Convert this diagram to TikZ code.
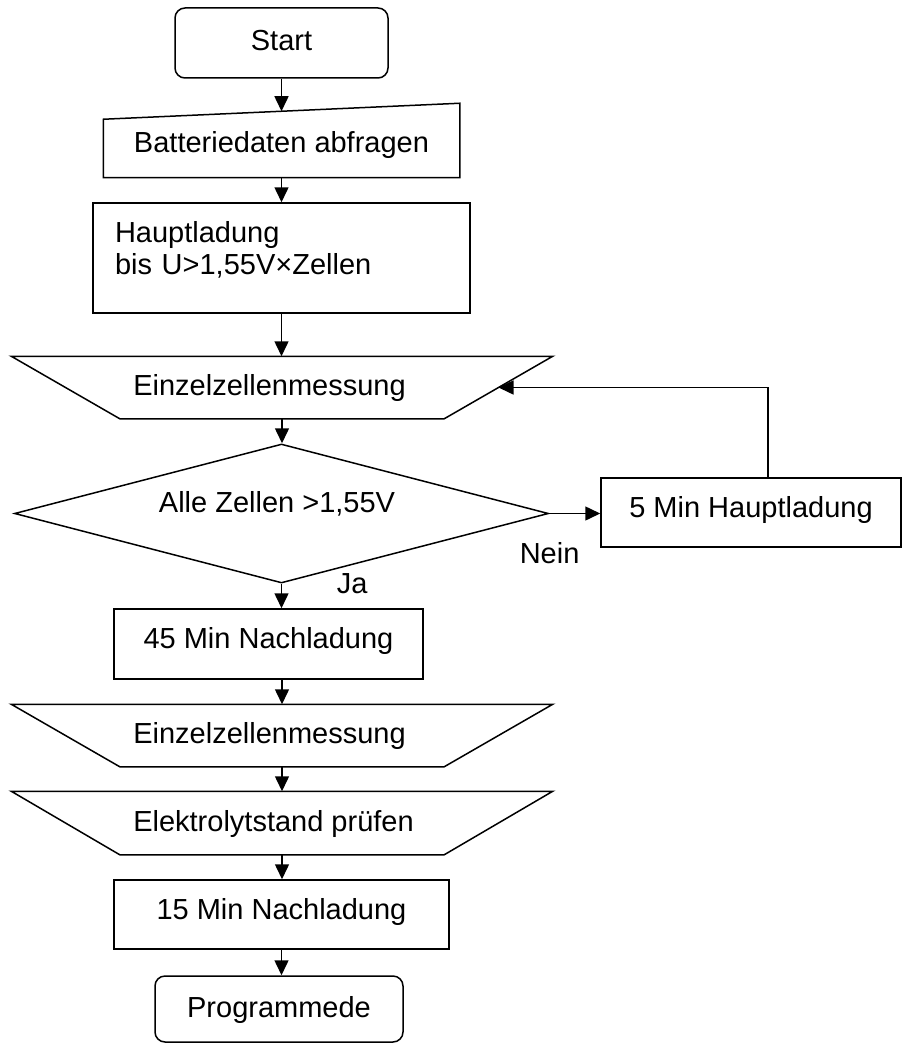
\documentclass[tikz,border=0pt]{standalone}
\usepackage{fontspec}
\setmainfont{Liberation Sans}
\usetikzlibrary{arrows.meta,shapes.geometric,calc}
\begin{document}
\begin{tikzpicture}[x=1pt,y=-1pt,line width=1.5pt,
  font=\fontsize{29}{32}\selectfont,
  base/.style={inner sep=0pt,text height=21pt,text depth=6pt},
  box/.style={base,draw,rectangle},
  term/.style={box,rounded corners=10pt},
  plain/.style={base,rectangle},
  arr/.style={-{Triangle[length=15pt,width=14pt]}}]
\useasboundingbox (0,0) rectangle (902,1043);
% nodes
\node[term,minimum width=213pt,minimum height=70pt] (start) at (281.5,43) {Start};
\node[plain,minimum width=355pt,minimum height=73pt,text height=31pt] (bd) at (281.5,140.5) {Batteriedaten abfragen};
\draw ([yshift=-16pt]bd.north west) -- (bd.north east) -- (bd.south east) -- (bd.south west) -- cycle;
\node[draw,rectangle,inner sep=0pt,inner xsep=22pt,minimum width=377pt,minimum height=110pt,align=left,text width=333pt] (hb) at (281.5,258) {Hauptladung\\bis U>1,55V×Zellen\rule[-21pt]{0pt}{21pt}};
\node[plain,minimum width=540pt,minimum height=61pt] (ez1) at (282,387.5) {Einzelzellenmessung\hspace*{25pt}};
\draw (ez1.north west) -- (ez1.north east) -- ([xshift=-108.5pt]ez1.south east) -- ([xshift=108.5pt]ez1.south west) -- cycle;
\node[draw,diamond,aspect=3.84,inner sep=0pt,minimum width=534pt,minimum height=139pt,text height=21pt,text depth=24pt] (dia) at (281.5,513.5) {Alle Zellen >1,55V\hspace*{9pt}};
\node[box,minimum width=300pt,minimum height=69pt,text depth=12pt] (hl5) at (751,512.5) {5 Min Hauptladung};
\node[box,minimum width=309pt,minimum height=70pt,text depth=13pt] (n45) at (268.5,644) {45 Min Nachladung};
\node[plain,minimum width=540pt,minimum height=61pt] (ez2) at (282,735.5) {Einzelzellenmessung\hspace*{25pt}};
\draw (ez2.north west) -- (ez2.north east) -- ([xshift=-108.5pt]ez2.south east) -- ([xshift=108.5pt]ez2.south west) -- cycle;
\node[plain,minimum width=540pt,minimum height=62pt,text depth=5pt] (el) at (282,823) {Elektrolytstand prüfen\hspace*{17pt}};
\draw (el.north west) -- (el.north east) -- ([xshift=-108.5pt]el.south east) -- ([xshift=108.5pt]el.south west) -- cycle;
\node[box,minimum width=335pt,minimum height=69pt,text depth=12pt] (n15) at (281.5,914.5) {15 Min Nachladung};
\node[term,minimum width=248pt,minimum height=66pt,text depth=5pt] (prog) at (279,1009) {Programmede};
\node[anchor=base west,inner sep=0pt] (nein) at (519,563) {Nein};
\node[anchor=base west,inner sep=0pt] (ja) at (336,593) {Ja};
% connectors
\draw[arr] (start.south) -- ($(start.south |- bd.north)+(0,8)$);
\draw[arr] (bd.south) -- (bd.south |- hb.north);
\draw[arr] (hb.south) -- (hb.south |- ez1.north);
\draw[arr] (ez1.south) -- (ez1.south |- dia.north);
\draw[arr] (dia.east) -- (dia.east -| hl5.west);
\draw[arr] ([xshift=17pt]hl5.north) |- ($(ez1.north east)!0.5!([xshift=-108.5pt]ez1.south east)$);
\draw[arr] (dia.south) -- (dia.south |- n45.north);
\draw[arr] (ez2.north |- n45.south) -- (ez2.north);
\draw[arr] (ez2.south) -- (el.north);
\draw[arr] (el.south) -- (el.south |- n15.north);
\draw[arr] (n15.south) -- (n15.south |- prog.north);
\end{tikzpicture}
\end{document}
